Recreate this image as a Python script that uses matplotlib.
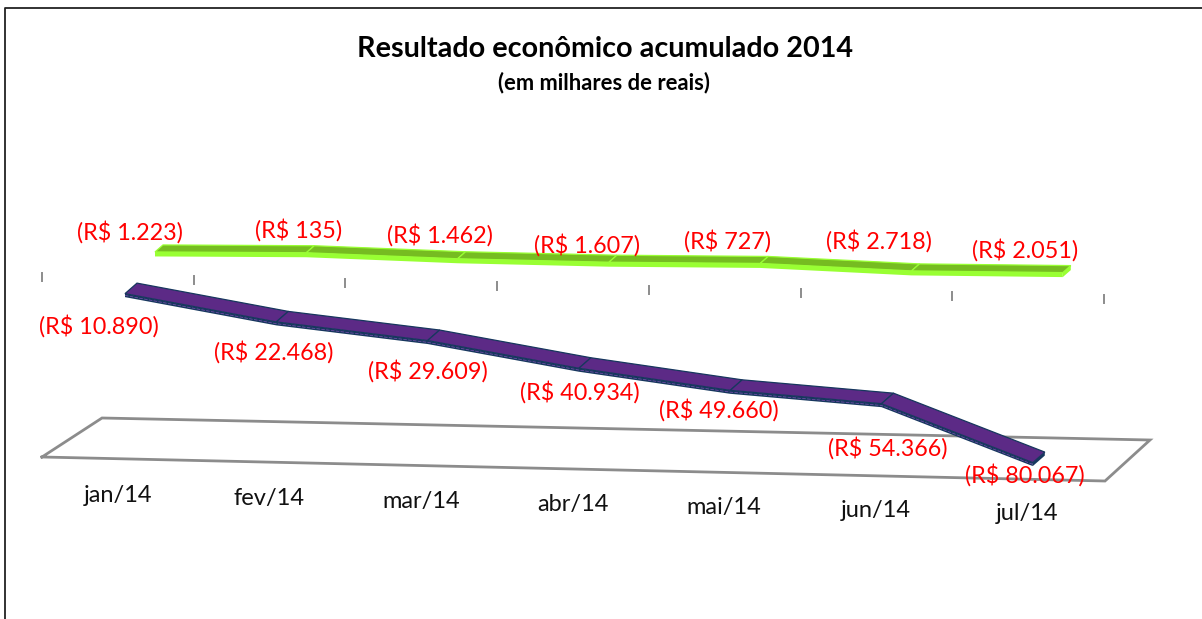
import matplotlib
matplotlib.use('Agg')
import matplotlib.pyplot as plt
from matplotlib.transforms import Affine2D
import numpy as np

plt.rcParams['font.family'] = ['Lato', 'DejaVu Sans']

meses = ['jan/14', 'fev/14', 'mar/14', 'abr/14', 'mai/14', 'jun/14', 'jul/14']
acumulado = [-10890, -22468, -29609, -40934, -49660, -54366, -80067]
mensal = [-1223, -135, -1462, -1607, -727, -2718, -2051]

# deslocamento dos rotulos em px, a partir do canto da fita
off_acum = [(-26, 32), (-3, 30), (0, 31), (1, 24), (-11, 20), (6, 44), (-8, 13)]
off_mens = [(-25, -20), (-8, -23), (-18, -24), (-22, -17), (-33, -22), (-33, -30), (-38, -22)]

W, H = 1202, 619
fig = plt.figure(figsize=(W / 100, H / 100), dpi=100)
ax = fig.add_axes([0, 0, 1, 1])
ax.set_xlim(0, W)
ax.set_ylim(H, 0)
ax.axis('off')

# moldura (so esquerda e topo aparecem)
ax.plot([5, 5, W], [H, 8, 8], color='#222222', lw=1.3, zorder=1)

# piso do grafico 3D
floor_x = [42, 102, 1150, 1105, 42]
floor_y = [457, 418, 440, 481, 457]
ax.plot(floor_x, floor_y, color='#8c8c8c', lw=2.0, solid_joinstyle='miter', zorder=2)

# marcas do eixo
for k in range(8):
    ax.plot([42 + 151.7 * k] * 2, [273 + 3.14 * k, 281 + 3.14 * k], color='#8c8c8c', lw=1.4, zorder=2)


def projecao(x0, y0):
    # (indice, valor) -> px da figura; o grafico original e inclinado
    return Affine2D.from_values(151.3, 3.14, 0, -0.00217, x0, y0)


def fita(valores, x0, y0, largura, topo, lado, borda, esp):
    n = len(valores)
    pts = np.column_stack([np.arange(n), valores])
    frente = projecao(x0, y0).transform(pts)
    fundo = frente + np.array(largura)
    # face lateral
    xs = np.r_[frente[:, 0], frente[::-1, 0]]
    ys = np.r_[frente[:, 1], frente[::-1, 1] + esp]
    ax.fill(xs, ys, color=lado, lw=0, zorder=4)
    # face de cima, um trecho por mes
    for a in range(n - 1):
        ax.fill([frente[a, 0], frente[a + 1, 0], fundo[a + 1, 0], fundo[a, 0]],
                [frente[a, 1], frente[a + 1, 1], fundo[a + 1, 1], fundo[a, 1]],
                facecolor=topo, edgecolor=borda, lw=0.9, joinstyle='miter', zorder=5)
    # ponta direita
    ax.fill([frente[-1, 0], fundo[-1, 0], fundo[-1, 0], frente[-1, 0]],
            [frente[-1, 1], fundo[-1, 1], fundo[-1, 1] + esp, frente[-1, 1] + esp],
            color=lado, lw=0, zorder=4)
    return frente


frente_m = fita(mensal, 155, 249.3, (8, -7), '#76bc21', '#99ff33', '#99ff33', 4.5)
frente_a = fita(acumulado, 125, 270, (12, -10.5), '#5c2a86', '#17375e', '#17375e', 3.5)
ax.plot(frente_a[:, 0], frente_a[:, 1] + 1.8, color='#7b4fb0', lw=0.5, ls=(0, (5, 2)), zorder=6)


def rotulo(v):
    return '(R$ ' + f'{abs(v):,}'.replace(',', '.') + ')'


for pts, vals, offs in [(frente_a, acumulado, off_acum), (frente_m, mensal, off_mens)]:
    for p, v, o in zip(pts, vals, offs):
        ax.text(p[0] + o[0], p[1] + o[1], rotulo(v), color='#ff0000', fontsize=16.8,
                ha='center', va='center', zorder=8)

for i, m in enumerate(meses):
    ax.text(118 + 151.5 * i, 496 + 2.85 * i, m, color='#111111', fontsize=17,
            ha='center', va='center', zorder=8)

ax.text(605, 49, 'Resultado econômico acumulado 2014', fontsize=20.7, fontweight='bold',
        ha='center', va='center', color='black')
ax.text(604, 83, '(em milhares de reais)', fontsize=15.8, fontweight='bold',
        ha='center', va='center', color='black')

fig.savefig('out.png', dpi=100)
